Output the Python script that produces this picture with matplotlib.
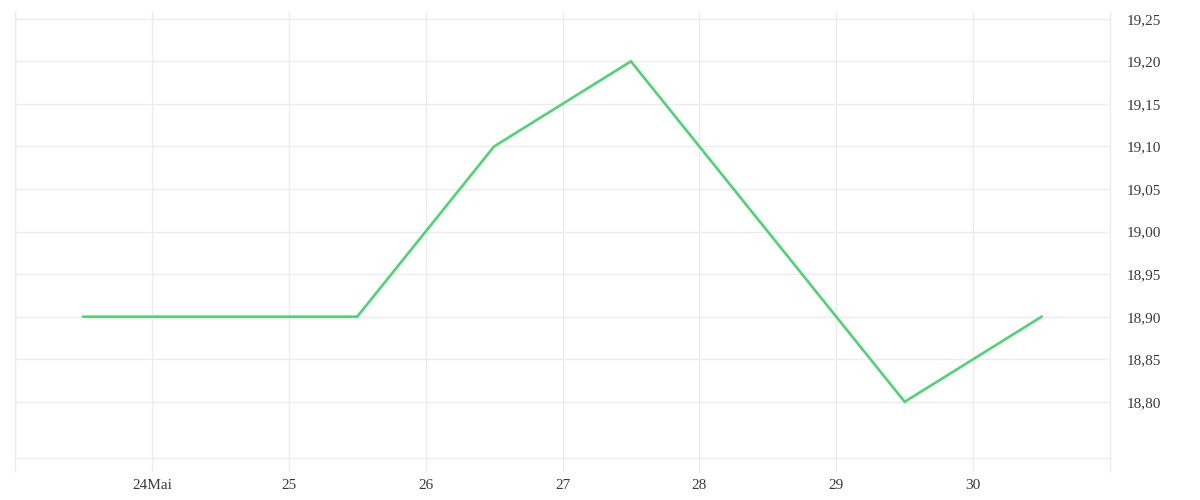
import datetime as dt

import matplotlib
matplotlib.use("Agg")
import matplotlib.pyplot as plt
import matplotlib.dates as mdates
from matplotlib.ticker import FuncFormatter

# values sampled at noon of each day (May)
days = [23, 24, 25, 26, 27, 28, 29, 30]
prices = [18.90, 18.90, 18.90, 19.10, 19.20, 19.00, 18.80, 18.90]

tick_days = [23, 24, 25, 26, 27, 28, 29, 30, 31]
tick_labels = ["", "24Mai", "25", "26", "27", "28", "29", "30", ""]
y_ticks = [18.80, 18.85, 18.90, 18.95, 19.00, 19.05, 19.10, 19.15, 19.20, 19.25]

LINE_COLOR = "#4dd474"
GRID_COLOR = "#ececec"
TEXT_COLOR = "#3a3a3a"

plt.rcParams["font.family"] = ["Liberation Serif", "DejaVu Serif"]


def main():
  fig = plt.figure(figsize=(12, 5), dpi=100, facecolor="w")
  ax = fig.add_axes([15 / 1200, 42 / 500, 1095 / 1200, 446 / 500])

  xs = [dt.datetime(2024, 5, d, 12) for d in days]
  ax.plot(xs, prices, color=LINE_COLOR, linewidth=1.9, solid_joinstyle="miter")

  ticks = [mdates.date2num(dt.datetime(2024, 5, d)) for d in tick_days]
  ax.set_xticks(ticks)
  ax.set_xticklabels(tick_labels, fontsize=11, color=TEXT_COLOR)
  ax.set_xlim(ticks[0], ticks[-1])

  ax.set_ylim(18.734, 19.258)
  ax.set_yticks(y_ticks)
  ax.yaxis.set_major_formatter(FuncFormatter(lambda v, p: "{:.2f}".format(v).replace(".", ",")))
  ax.yaxis.tick_right()
  ax.tick_params(axis="y", length=0, pad=12, labelsize=11, labelcolor=TEXT_COLOR)
  ax.tick_params(axis="x", length=10, width=1, color=GRID_COLOR, pad=5)

  ax.grid(True, color=GRID_COLOR, linewidth=1)
  ax.set_axisbelow(True)

  for side in ["left", "right", "bottom"]:
    ax.spines[side].set_color(GRID_COLOR)
    ax.spines[side].set_linewidth(1)
  ax.spines["top"].set_visible(False)

  fig.savefig("out.png", dpi=100, facecolor="w")
  plt.close()


if __name__ == "__main__":
  main()
